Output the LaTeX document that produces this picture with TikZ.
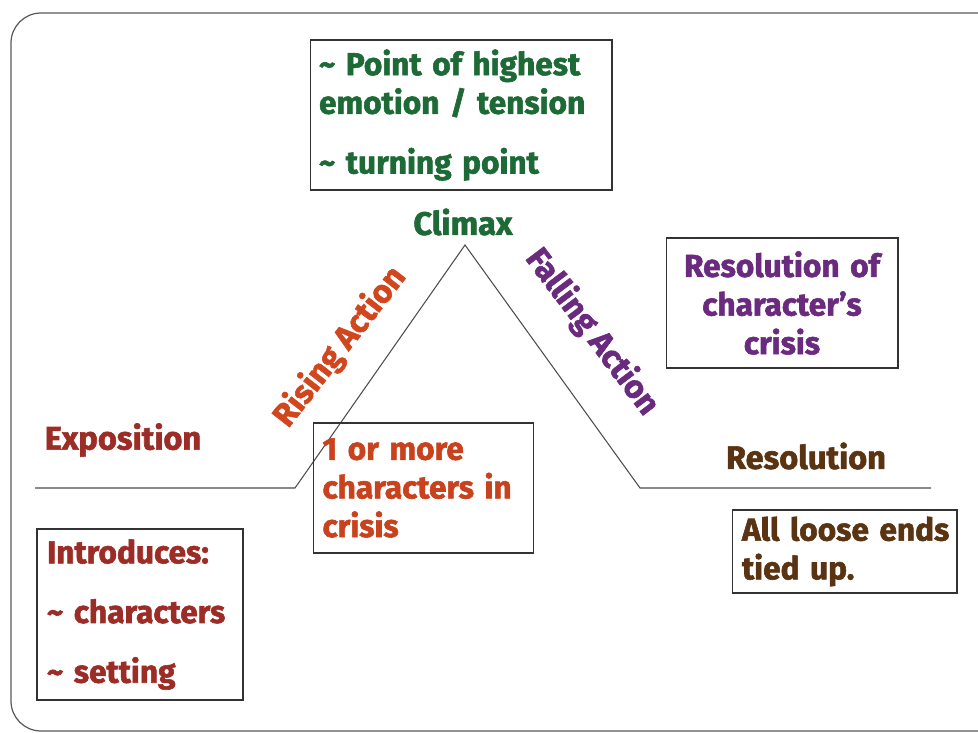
\documentclass[tikz,border=0pt]{standalone}
\usepackage{fontspec}
\setmainfont{Fira Sans}[BoldFeatures={FakeBold=1.8}]
\usetikzlibrary{positioning}
\definecolor{climaxgreen}{HTML}{1E6A36}
\definecolor{risered}{HTML}{D2461E}
\definecolor{crisisred}{HTML}{C8421E}
\definecolor{expored}{HTML}{9C2C26}
\definecolor{fallpurple}{HTML}{6A2A7E}
\definecolor{resobrown}{HTML}{5A3412}
\tikzset{
	plotline/.style={draw=black!70, line width=0.6pt},
	infobox/.style={draw=black!80, line width=0.6pt, inner xsep=0.18cm, inner ysep=0pt, font=\fontsize{18}{22}\selectfont\bfseries},
	stagelabel/.style={font=\fontsize{18.5}{22}\selectfont\bfseries, inner sep=0pt}
}
\begin{document}
\begin{tikzpicture}[x=0.02cm, y=-0.02cm]
	\useasboundingbox (0,0) rectangle (978,733);
	\clip (0,0) rectangle (978,733);
	\draw[draw=black!65, line width=0.7pt, rounded corners=0.6cm] (11,13) rectangle (1010,731);

	\coordinate (expo start) at (35,488);
	\coordinate (rise start) at (295,488);
	\coordinate (peak) at (465,245);
	\coordinate (fall end) at (640,488);
	\coordinate (reso end) at (931,488);
	\draw[plotline] (expo start) -- (rise start) -- (peak) -- (fall end) -- (reso end);

	\node[stagelabel, text=climaxgreen] (climax) at (463,222) {Climax};
	\node[stagelabel, text=expored] (exposition) at (123,440) {Exposition};
	\node[stagelabel, text=resobrown] (resolution) at (806,456) {Resolution};
	\node[stagelabel, text=risered, rotate=52] (rising) at (340,347) {Rising Action};
	\node[stagelabel, text=fallpurple, rotate=-53] (falling) at (592,332) {Falling Action};

	\node[infobox, text=climaxgreen, minimum width=6.04cm, minimum height=3cm, text width=5.68cm, align=left] (climax box) at (461,115)
		{\textasciitilde{} Point of highest\\ emotion / tension\\[12pt] \textasciitilde{} turning point};
	\node[infobox, text=crisisred, minimum width=4.38cm, minimum height=2.6cm, text width=4.04cm, align=left] (crisis box) at (423.5,488)
		{1 or more\\ characters in\\ crisis};
	\node[infobox, text=expored, minimum width=4.12cm, minimum height=3.42cm, text width=3.72cm, align=left, inner xsep=0.2cm] (intro box) at (140,614.5)
		{Introduces:\\[12pt] \textasciitilde{} characters\\[12pt] \textasciitilde{} setting};
	\node[infobox, text=fallpurple, minimum width=4.64cm, minimum height=2.6cm, text width=4.28cm, align=center] (falling box) at (782,303)
		{Resolution of\\ character’s\\ crisis};
	\node[infobox, text=resobrown, minimum width=4.5cm, minimum height=1.66cm, text width=4.1cm, align=left, inner xsep=0.2cm] (ends box) at (844.5,551.5)
		{\mbox{All loose ends}\\ tied up.};
\end{tikzpicture}
\end{document}
